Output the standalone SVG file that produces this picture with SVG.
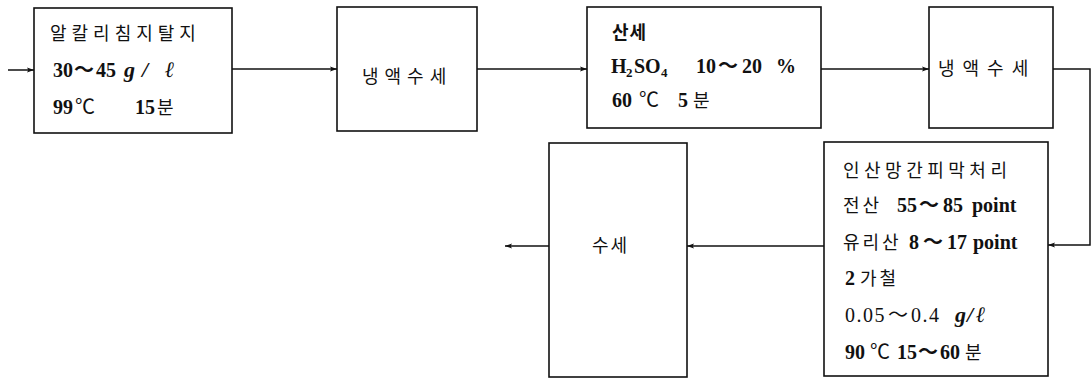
<svg xmlns="http://www.w3.org/2000/svg" width="1092" height="378" viewBox="0 0 1092 378">
<style>
.box{fill:#fff;stroke:#111;stroke-width:1.6}
.ln{fill:none;stroke:#111;stroke-width:1.5}
.ko{font-family:"Noto Sans CJK KR","Noto Sans",sans-serif;font-size:18px;fill:#111}
.la{font-family:"Liberation Serif","DejaVu Serif",serif;font-size:20px;font-weight:bold;fill:#111}
.ln2{font-family:"Liberation Serif","DejaVu Serif",serif;font-size:20px;fill:#111}
.it{font-family:"Liberation Serif","DejaVu Serif",serif;font-style:italic;font-weight:bold;font-size:22px;fill:#111}
.tl{font-family:"Noto Sans CJK KR",sans-serif;font-size:20px;fill:#111}
.dc{font-family:"Noto Sans CJK KR",sans-serif;font-size:20px;fill:#111}
.sub{font-size:13px}
</style>
<defs>
<marker id="ah" viewBox="0 0 10 10" refX="10" refY="5" markerWidth="10" markerHeight="7" markerUnits="userSpaceOnUse" orient="auto">
<path d="M0,1.5 L10,5 L0,8.5 L2,5 z" fill="#111"/>
</marker>
</defs>
<g id="connectors">
<line class="ln" x1="8" y1="70" x2="34" y2="70" marker-end="url(#ah)"/>
<line class="ln" x1="232" y1="69" x2="337" y2="69" marker-end="url(#ah)"/>
<line class="ln" x1="477" y1="69" x2="587" y2="69" marker-end="url(#ah)"/>
<line class="ln" x1="821" y1="69" x2="929" y2="69" marker-end="url(#ah)"/>
<polyline class="ln" points="1053,69 1090,69 1090,245 1048,245" marker-end="url(#ah)"/>
<line class="ln" x1="824" y1="246" x2="687" y2="246" marker-end="url(#ah)"/>
<line class="ln" x1="549" y1="246" x2="505" y2="246" marker-end="url(#ah)"/>
</g>
<g id="n1">
<rect class="box" x="34" y="8" width="198" height="125"/>
<text class="ko" x="50" y="40" letter-spacing="5">알칼리침지탈지</text>
<text class="la" y="77"><tspan x="53">30</tspan><tspan class="tl" x="74">～</tspan><tspan x="96">45</tspan></text>
<text class="it" y="77"><tspan x="124">g</tspan><tspan x="142">/</tspan><tspan x="165">ℓ</tspan></text>
<text class="la" x="53" y="114">99</text>
<text class="dc" x="75" y="114">℃</text>
<text class="la" x="135" y="114">15</text>
<text class="ko" x="157" y="114">분</text>
</g>
<g id="n2">
<rect class="box" x="337" y="7" width="140" height="124"/>
<text class="ko" x="362" y="83" letter-spacing="6">냉액수세</text>
</g>
<g id="n3">
<rect class="box" x="587" y="7" width="234" height="121"/>
<text class="ko" x="612" y="39" font-weight="bold" letter-spacing="1">산세</text>
<text class="la" y="73"><tspan x="611">H</tspan><tspan class="sub" x="626" dy="4">2</tspan><tspan x="634" dy="-4">SO</tspan><tspan class="sub" x="661" dy="4">4</tspan></text>
<text class="la" y="73"><tspan x="696">10</tspan><tspan class="tl" x="718">～</tspan><tspan x="742">20</tspan><tspan x="776">%</tspan></text>
<text class="la" x="612" y="107">60</text>
<text class="dc" x="639" y="107">℃</text>
<text class="la" x="678" y="107">5</text>
<text class="ko" x="693" y="107">분</text>
</g>
<g id="n4">
<rect class="box" x="929" y="7" width="124" height="121"/>
<text class="ko" x="938" y="75" letter-spacing="8">냉액수세</text>
</g>
<g id="n5">
<rect class="box" x="824" y="142" width="224" height="234"/>
<text class="ko" x="843" y="177" letter-spacing="4.5">인산망간피막처리</text>
<text class="ko" x="843" y="212" letter-spacing="3">전산</text>
<text class="la" y="212"><tspan x="897">55</tspan><tspan class="tl" x="919">～</tspan><tspan x="943">85</tspan><tspan x="972">point</tspan></text>
<text class="ko" x="843" y="249" letter-spacing="3">유리산</text>
<text class="la" y="249"><tspan x="909">8</tspan><tspan class="tl" x="923">～</tspan><tspan x="947">17</tspan><tspan x="973">point</tspan></text>
<text class="la" x="845" y="285">2</text>
<text class="ko" x="860" y="285" letter-spacing="3">가철</text>
<text class="ln2" y="322"><tspan x="845" letter-spacing="1.5">0.05</tspan><tspan class="tl" x="888">～</tspan><tspan x="911" letter-spacing="1.5">0.4</tspan></text>
<text class="it" y="322"><tspan x="955">g</tspan><tspan x="967">/</tspan><tspan x="976">ℓ</tspan></text>
<text class="la" x="845" y="359">90</text>
<text class="dc" x="870" y="359">℃</text>
<text class="la" y="359"><tspan x="897">15</tspan><tspan class="tl" x="918">～</tspan><tspan x="940">60</tspan></text>
<text class="ko" x="965" y="359">분</text>
</g>
<g id="n6">
<rect class="box" x="549" y="143" width="138" height="234"/>
<text class="ko" x="592" y="252" letter-spacing="2">수세</text>
</g>
</svg>
